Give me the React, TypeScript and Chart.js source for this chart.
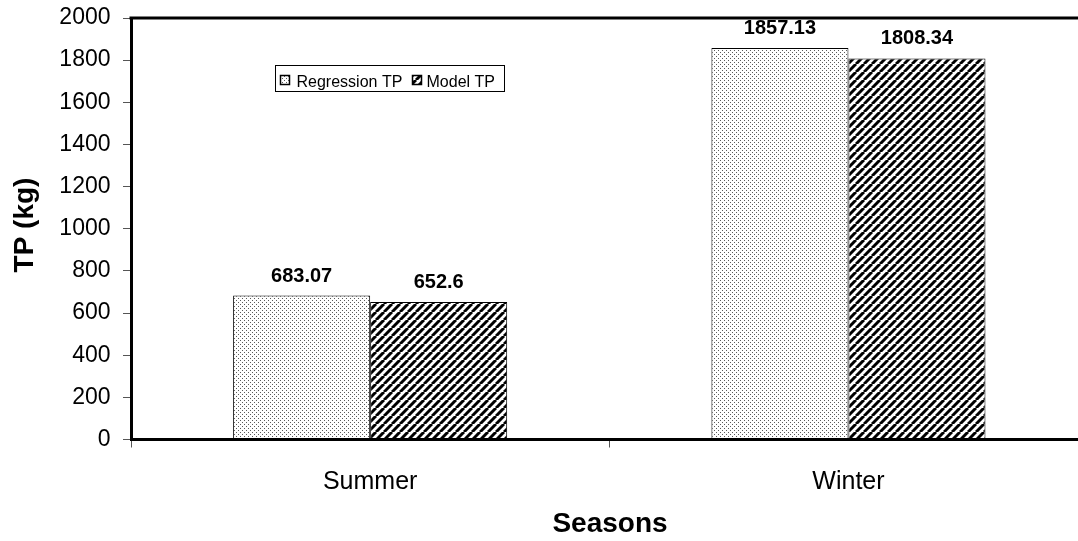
import React, { useEffect, useRef } from "react";
import { Chart, registerables } from "chart.js";

Chart.register(...registerables);

const categories = ["Summer", "Winter"];
const seriesNames = ["Regression TP", "Model TP"];
const regressionTP = [683.07, 1857.13];
const modelTP = [652.6, 1808.34];
const valueLabels = [["683.07", "1857.13"], ["652.6", "1808.34"]];
const yMin = 0;
const yMax = 2000;
const yStep = 200;
const xTitle = "Seasons";
const yTitle = "TP (kg)";

const FONT = "'Liberation Sans', Arial, Helvetica, sans-serif";

function makeDots(): CanvasPattern | string {
  const c = document.createElement("canvas");
  c.width = 4;
  c.height = 4;
  const g = c.getContext("2d");
  if (!g) return "#ddd";
  g.fillStyle = "#ffffff";
  g.fillRect(0, 0, 4, 4);
  g.fillStyle = "#5a5a5a";
  g.fillRect(0, 0, 1, 1);
  g.fillRect(2, 2, 1, 1);
  return g.createPattern(c, "repeat") || "#ddd";
}

function makeHatch(): CanvasPattern | string {
  const c = document.createElement("canvas");
  c.width = 8;
  c.height = 8;
  const g = c.getContext("2d");
  if (!g) return "#555";
  g.fillStyle = "#ffffff";
  g.fillRect(0, 0, 8, 8);
  g.strokeStyle = "#000000";
  g.lineWidth = 3;
  for (const o of [-8, 0, 8]) {
    g.beginPath();
    g.moveTo(o, 8);
    g.lineTo(o + 8, 0);
    g.stroke();
  }
  return g.createPattern(c, "repeat") || "#555";
}

export default function App() {
  const ref = useRef<HTMLCanvasElement>(null);

  useEffect(() => {
    if (!ref.current) return;
    const dots = makeDots();
    const hatch = makeHatch();
    const fills = [dots, hatch];

    const decor = {
      id: "decor",
      afterDatasetsDraw(chart: any) {
        const ctx = chart.ctx;
        ctx.save();
        ctx.fillStyle = "#000";
        ctx.font = `bold 20px ${FONT}`;
        ctx.textAlign = "center";
        ctx.textBaseline = "alphabetic";
        chart.data.datasets.forEach((ds: any, i: number) => {
          const meta = chart.getDatasetMeta(i);
          meta.data.forEach((el: any, j: number) => {
            ctx.fillText(valueLabels[i][j], el.x, el.y - 14);
          });
        });
        ctx.restore();
      },
      afterDraw(chart: any) {
        const ctx = chart.ctx;
        const a = chart.chartArea;
        ctx.save();
        // top frame line of plot area
        ctx.strokeStyle = "#000";
        ctx.lineWidth = 3;
        ctx.beginPath();
        ctx.moveTo(a.left - 1.5, a.top);
        ctx.lineTo(a.right, a.top);
        ctx.stroke();

        // axis titles
        ctx.fillStyle = "#000";
        ctx.font = `bold 28px ${FONT}`;
        ctx.textAlign = "center";
        ctx.textBaseline = "alphabetic";
        ctx.fillText(xTitle, 610, 531.5);
        ctx.save();
        ctx.translate(33, 225);
        ctx.rotate(-Math.PI / 2);
        ctx.fillText(yTitle, 0, 0);
        ctx.restore();

        // legend
        const lx = 275.5, ly = 65.5, lw = 229, lh = 26;
        ctx.fillStyle = "#fff";
        ctx.fillRect(lx, ly, lw, lh);
        ctx.lineWidth = 1;
        ctx.strokeStyle = "#000";
        ctx.strokeRect(lx, ly, lw, lh);
        ctx.font = `16px ${FONT}`;
        ctx.textAlign = "left";
        const items = [
          { sx: 280, tx: 296.5 },
          { sx: 412, tx: 426.5 },
        ];
        items.forEach((it, i) => {
          ctx.fillStyle = fills[i] as any;
          ctx.fillRect(it.sx, 75, 10, 10);
          ctx.strokeStyle = "#000";
          ctx.lineWidth = 1.5;
          ctx.strokeRect(it.sx + 0.5, 75.5, 9, 9);
          ctx.fillStyle = "#000";
          ctx.fillText(seriesNames[i], it.tx, 87.3);
        });
        ctx.restore();
      },
    };

    const chart = new Chart(ref.current, {
      type: "bar",
      data: {
        labels: categories,
        datasets: [
          {
            label: seriesNames[0],
            data: regressionTP,
            backgroundColor: dots as any,
            borderColor: "#000",
            borderWidth: 1,
            borderSkipped: false,
            barPercentage: 1,
            categoryPercentage: 0.573,
          },
          {
            label: seriesNames[1],
            data: modelTP,
            backgroundColor: hatch as any,
            borderColor: "#000",
            borderWidth: 1,
            borderSkipped: false,
            barPercentage: 1,
            categoryPercentage: 0.573,
          },
        ],
      },
      options: {
        animation: false,
        responsive: false,
        devicePixelRatio: 1,
        layout: { padding: { left: 0, right: 12.4, top: 18, bottom: 0 } },
        plugins: {
          legend: { display: false },
          tooltip: { enabled: false },
          title: { display: false },
        },
        scales: {
          x: {
            grid: {
              display: true,
              drawOnChartArea: false,
              drawTicks: true,
              tickLength: 8,
              color: "#555",
              offset: true,
            },
            border: { display: true, color: "#000", width: 3 },
            ticks: {
              color: "#000",
              font: { family: FONT, size: 25 },
              padding: 20,
              maxRotation: 0,
            },
            afterFit: (s: any) => {
              s.height = 101.5;
              s.paddingLeft = 0;
              s.paddingRight = 0;
            },
          },
          y: {
            min: yMin,
            max: yMax,
            grid: {
              display: true,
              drawOnChartArea: false,
              drawTicks: true,
              tickLength: 8,
              color: "#555",
            },
            border: { display: true, color: "#000", width: 3 },
            ticks: {
              stepSize: yStep,
              color: "#000",
              font: { family: FONT, size: 23 },
              padding: 12.5,
              callback: (v: any) => String(v),
            },
            afterFit: (s: any) => {
              s.width = 131;
              s.paddingTop = 0;
              s.paddingBottom = 0;
            },
          },
        },
      },
      plugins: [decor],
    });
    return () => chart.destroy();
  }, []);

  return (
    <div
      style={{
        position: "absolute",
        left: 0,
        top: 0,
        width: 1078,
        height: 541,
        overflow: "hidden",
        background: "#fff",
      }}
    >
      <canvas ref={ref} width={1100} height={541} style={{ display: "block" }} />
    </div>
  );
}
